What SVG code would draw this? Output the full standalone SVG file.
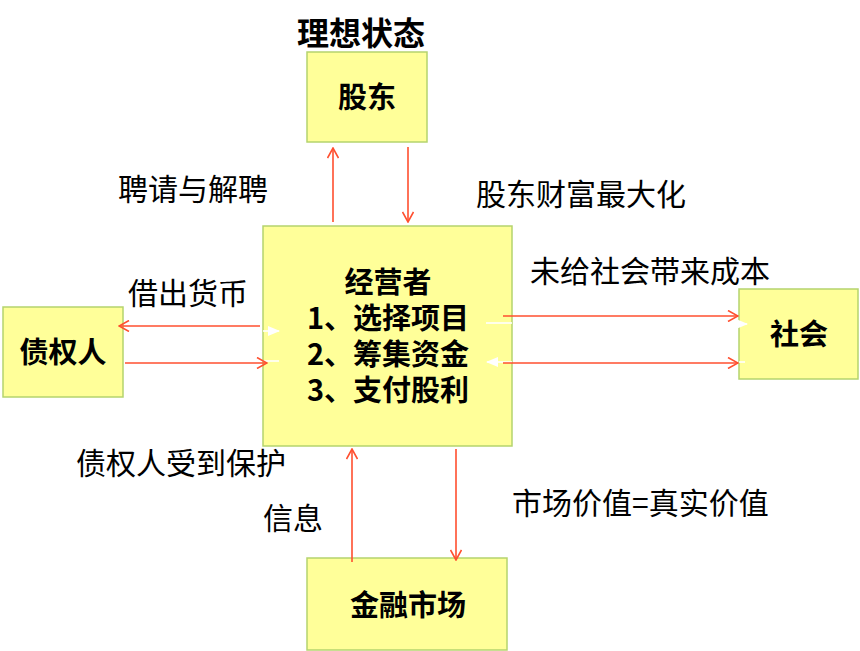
<svg xmlns="http://www.w3.org/2000/svg" width="860" height="651" viewBox="0 0 860 651">
<defs>
<style>
.box{fill:#FFFF99;stroke:#B5D46E;stroke-width:1.5}
.lbl{font-family:"Noto Sans CJK SC","Noto Sans",sans-serif;font-size:29px;font-weight:bold;fill:#000;text-anchor:middle}
.txt{font-family:"Noto Sans CJK SC","Noto Sans",sans-serif;font-size:30px;fill:#000}
.red{stroke:#FF4F2F;stroke-width:1.6;fill:none}
.wht{stroke:#FFFFFF;stroke-width:1.6;fill:none}
</style>
<marker id="ah" viewBox="0 0 12 12" refX="11" refY="6" markerWidth="12" markerHeight="12" markerUnits="userSpaceOnUse" orient="auto">
<path d="M1,0.5 L11,6 L1,11.5" fill="none" stroke="#FF4F2F" stroke-width="1.6"/>
</marker>
<marker id="wh" viewBox="0 0 12 12" refX="11" refY="6" markerWidth="12" markerHeight="12" markerUnits="userSpaceOnUse" orient="auto">
<path d="M0,1 L12,6 L0,11 Z" fill="#FFFFFF"/>
</marker>
</defs>
<rect width="860" height="651" fill="#FFFFFF"/>
<text x="297" y="45" style="font-family:'Noto Sans CJK SC','Noto Sans',sans-serif;font-size:32px;font-weight:bold">理想状态</text>
<g id="shareholder">
<rect class="box" x="307" y="52" width="120" height="90"/>
<text class="lbl" x="367" y="108">股东</text>
</g>
<g id="manager">
<rect class="box" x="263" y="226" width="249" height="220"/>
<text class="lbl" x="388" y="293"><tspan x="388" y="293">经营者</tspan><tspan x="388" y="329">1、选择项目</tspan><tspan x="388" y="365">2、筹集资金</tspan><tspan x="388" y="401">3、支付股利</tspan></text>
</g>
<g id="creditor">
<rect class="box" x="3" y="307" width="120" height="90"/>
<text class="lbl" x="63" y="363">债权人</text>
</g>
<g id="society">
<rect class="box" x="739" y="289" width="119" height="90"/>
<text class="lbl" x="799" y="345">社会</text>
</g>
<g id="market">
<rect class="box" x="307" y="558" width="200" height="92"/>
<text class="lbl" x="408" y="616">金融市场</text>
</g>
<g id="connectors">
<line class="wht" x1="263" y1="331" x2="279" y2="331" marker-end="url(#wh)"/>
<line class="wht" x1="263" y1="361" x2="279" y2="361"/>
<line class="wht" x1="486" y1="323" x2="512" y2="323"/>
<line class="wht" x1="739" y1="324" x2="747" y2="324" marker-end="url(#wh)"/>
<line class="wht" x1="512" y1="362" x2="487" y2="362" marker-end="url(#wh)"/>
<line class="wht" x1="739" y1="362" x2="745" y2="362"/>
<line class="red" x1="333" y1="222" x2="333" y2="148" marker-end="url(#ah)"/>
<line class="red" x1="408" y1="147" x2="408" y2="222" marker-end="url(#ah)"/>
<line class="red" x1="260" y1="326" x2="119" y2="326" marker-end="url(#ah)"/>
<line class="red" x1="125" y1="363" x2="267" y2="363" marker-end="url(#ah)"/>
<line class="red" x1="503" y1="316" x2="738" y2="316" marker-end="url(#ah)"/>
<line class="red" x1="503" y1="363" x2="738" y2="363" marker-end="url(#ah)"/>
<line class="red" x1="352" y1="562" x2="352" y2="449" marker-end="url(#ah)"/>
<line class="red" x1="456" y1="449" x2="456" y2="560" marker-end="url(#ah)"/>
</g>
<g id="labels">
<text class="txt" x="118" y="200">聘请与解聘</text>
<text class="txt" x="476" y="205">股东财富最大化</text>
<text class="txt" x="128" y="304">借出货币</text>
<text class="txt" x="530" y="282">未给社会带来成本</text>
<text class="txt" x="76" y="474">债权人受到保护</text>
<text class="txt" x="263" y="529">信息</text>
<text class="txt" x="512" y="514">市场价值=真实价值</text>
</g>
</svg>
